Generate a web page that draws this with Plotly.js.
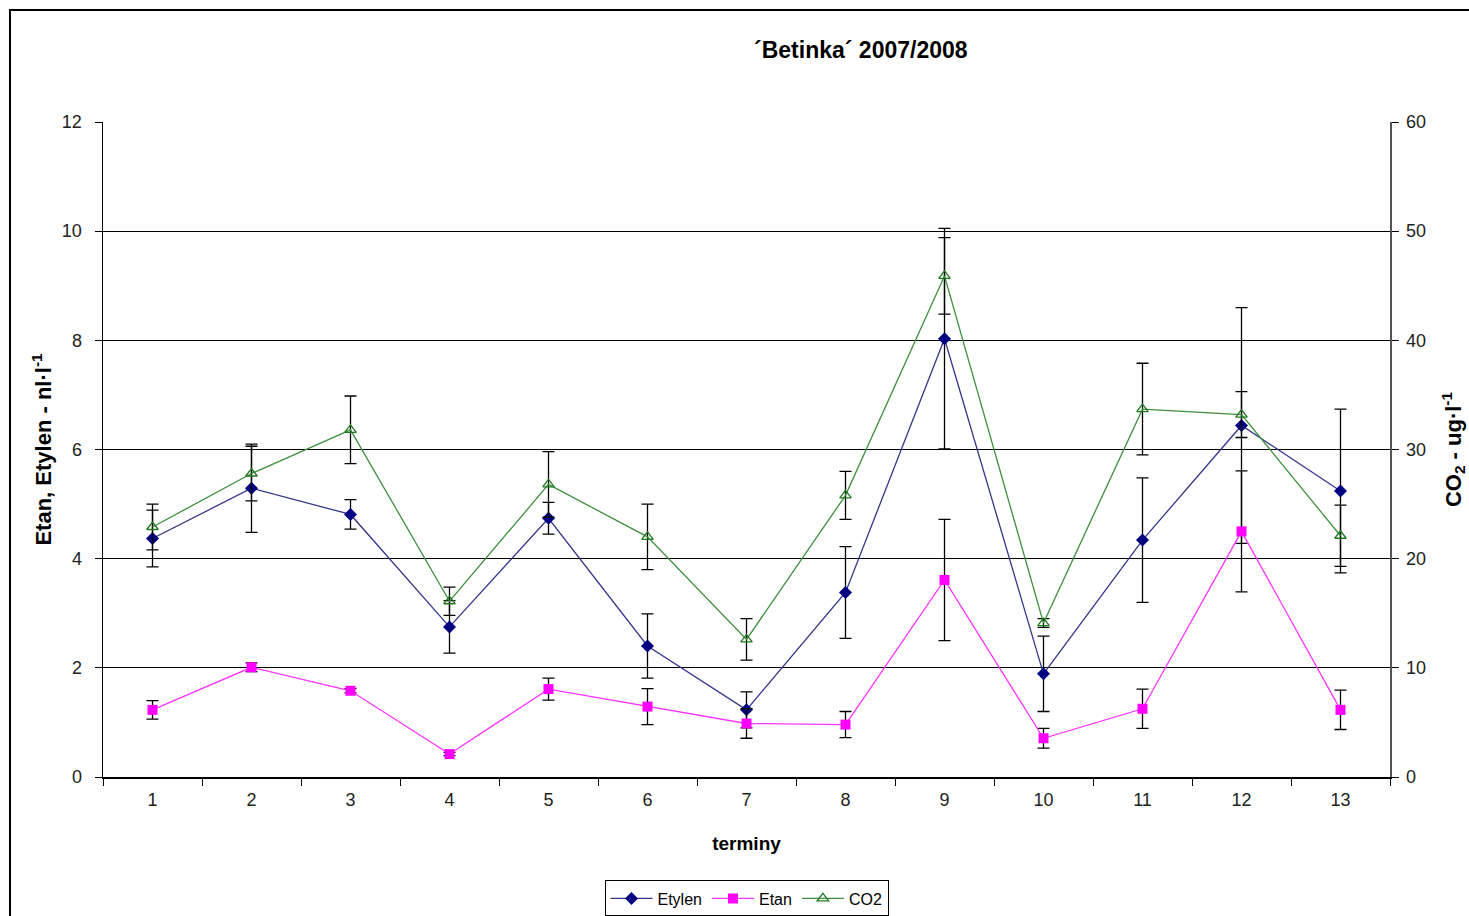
<!DOCTYPE html>
<html>
<head>
<meta charset="utf-8">
<script src="https://cdn.plot.ly/plotly-3.0.1.min.js"></script>
<style>
  html, body { margin: 0; padding: 0; background: #fff; }
  #frame { position: absolute; left: 9px; top: 9px; width: 1480px; height: 930px;
           border-left: 2px solid #000; border-top: 2px solid #000; }
  #chart { position: absolute; left: 0; top: 0; width: 1469px; height: 916px; }
</style>
</head>
<body>
<div id="frame"></div>
<div id="chart"></div>
<script>
// Sampling dates (termíny)
const terminy = ['1','2','3','4','5','6','7','8','9','10','11','12','13'];

// Ethylene, nl·l-1, with error
const etylen    = [4.37, 5.29, 4.81, 2.75, 4.74, 2.40, 1.23, 3.38, 8.03, 1.89, 4.34, 6.44, 5.24];
const etylenErr = [0.52, 0.81, 0.27, 0.48, 0.29, 0.59, 0.33, 0.84, 2.02, 0.69, 1.14, 2.16, 1.50];

// Ethane, nl·l-1, with error
const etan      = [1.23, 2.01, 1.58, 0.42, 1.61, 1.29, 0.98, 0.96, 3.61, 0.71, 1.25, 4.50, 1.23];
const etanErr   = [0.17, 0.08, 0.04, 0.03, 0.20, 0.33, 0.27, 0.24, 1.11, 0.18, 0.36, 1.11, 0.36];

// CO2, ug·l-1, with error (right axis)
const co2       = [22.9, 27.8, 31.8, 16.1, 26.8, 22.0, 12.6, 25.8, 45.9, 14.1, 33.7, 33.2, 22.1];
const co2Err    = [2.1, 2.5, 3.1, 1.3, 3.0, 3.0, 1.9, 2.2, 3.5, 0.4, 4.2, 2.1, 2.8];

const errStyle = (arr) => ({ type: 'data', array: arr, visible: true, color: '#000', thickness: 1.3, width: 6 });

const traces = [
  {
    name: 'Etylen', x: terminy, y: etylen, type: 'scatter', mode: 'lines+markers',
    line: { color: '#35358a', width: 1.3 },
    marker: { symbol: 'diamond', size: 10, color: '#000080' },
    error_y: errStyle(etylenErr)
  },
  {
    name: 'Etan', x: terminy, y: etan, type: 'scatter', mode: 'lines+markers',
    line: { color: '#ff33ff', width: 1.3 },
    marker: { symbol: 'square', size: 10, color: '#ff00ff' },
    error_y: errStyle(etanErr)
  },
  {
    name: 'CO2', x: terminy, y: co2, type: 'scatter', mode: 'lines+markers', yaxis: 'y2',
    line: { color: '#3d8f3d', width: 1.3 },
    marker: { symbol: 'triangle-up-open', size: 10, color: '#1f7a1f', line: { width: 1.3 } },
    error_y: errStyle(co2Err)
  }
];

const FONT = 'Liberation Sans, Arial, sans-serif';
const tickFont = { family: FONT, size: 18, color: '#222' };
const titleFont = { family: FONT, size: 22, color: '#000' };

const layout = {
  width: 1469, height: 916,
  paper_bgcolor: 'rgba(0,0,0,0)', plot_bgcolor: 'rgba(0,0,0,0)',
  margin: { l: 103, r: 79, t: 122, b: 139, autoexpand: false },
  showlegend: true,
  title: {
    text: '<b>´Betinka´ 2007/2008</b>',
    font: { family: FONT, size: 23, color: '#000' },
    x: 0.586, xref: 'container', xanchor: 'center',
    y: 0.945, yref: 'container', yanchor: 'middle'
  },
  xaxis: {
    type: 'category', tickson: 'boundaries', range: [-0.5, 12.5],
    ticks: 'outside', ticklen: 7, tickcolor: '#000', tickwidth: 1,
    ticklabelstandoff: 6,
    showline: true, linecolor: '#000', linewidth: 1.5, mirror: false,
    showgrid: false, zeroline: false,
    tickfont: tickFont,
    title: { text: '<b>terminy</b>', font: { family: FONT, size: 19, color: '#000' }, standoff: 27 }
  },
  yaxis: {
    range: [0, 12], dtick: 2, tick0: 0,
    ticks: 'outside', ticklen: 7, tickcolor: '#000',
    ticklabelstandoff: 9,
    showline: true, linecolor: '#000', linewidth: 1.5,
    showgrid: true, gridcolor: '#000', gridwidth: 1, zeroline: false,
    tickfont: tickFont,
    title: { text: '<b>Etan, Etylen - nl·l<sup>-1</sup></b>', font: titleFont, standoff: 4 }
  },
  yaxis2: {
    range: [0, 60], dtick: 10, tick0: 0, overlaying: 'y', side: 'right',
    ticks: 'outside', ticklen: 7, tickcolor: '#000',
    ticklabelstandoff: 4,
    showline: true, linecolor: '#555', linewidth: 1.5,
    showgrid: false, zeroline: false,
    tickfont: tickFont,
    title: { text: '<b>CO<sub>2</sub> - ug·l<sup>-1</sup></b>', font: titleFont, standoff: 20 }
  },
  legend: {
    orientation: 'h', x: 0.5, xanchor: 'center', y: -0.158, yanchor: 'top',
    bordercolor: '#000', borderwidth: 1, bgcolor: '#fff',
    font: { family: FONT, size: 16, color: '#000' },
    itemwidth: 42, tracegroupgap: 0
  }
};

Plotly.newPlot('chart', traces, layout, { displayModeBar: false, staticPlot: true });
</script>
</body>
</html>
